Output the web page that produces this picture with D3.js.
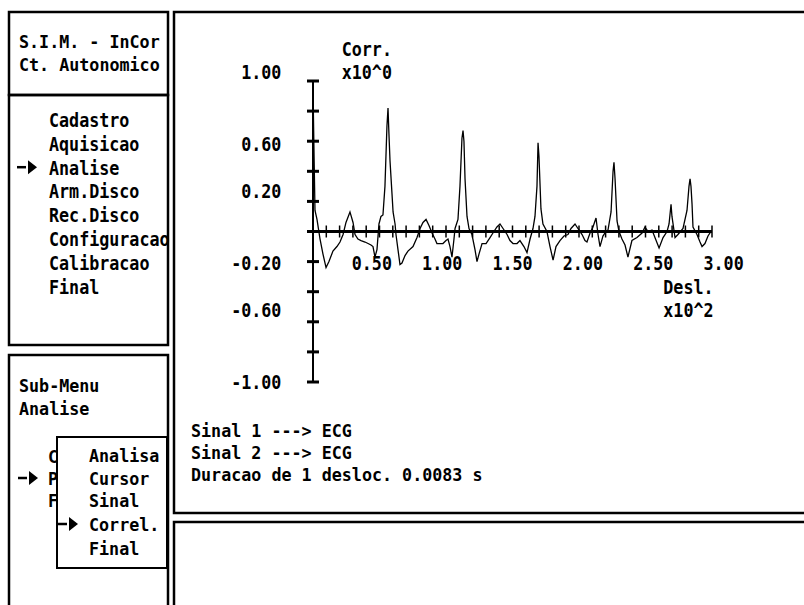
<!DOCTYPE html>
<html>
<head>
<meta charset="utf-8">
<script src="https://cdn.jsdelivr.net/npm/d3@7"></script>
<style>
  body { margin: 0; background: #fff; }
  svg { display: block; }
</style>
</head>
<body>
<div id="chart"></div>
<script>
const desl = [0.000, 0.008, 0.015, 0.030, 0.053, 0.075, 0.098, 0.120, 0.150, 0.180,
  0.203, 0.226, 0.248, 0.278, 0.301, 0.316, 0.338, 0.361, 0.391, 0.414,
  0.436, 0.451, 0.466, 0.481, 0.496, 0.511, 0.526, 0.541, 0.556, 0.564,
  0.571, 0.579, 0.594, 0.602, 0.617, 0.624, 0.639, 0.654, 0.669, 0.692,
  0.714, 0.752, 0.782, 0.805, 0.827, 0.850, 0.872, 0.895, 0.917, 0.932,
  0.955, 0.977, 1.000, 1.015, 1.030, 1.045, 1.060, 1.068, 1.090, 1.105,
  1.120, 1.128, 1.135, 1.143, 1.158, 1.173, 1.195, 1.218, 1.233, 1.248,
  1.271, 1.301, 1.331, 1.353, 1.383, 1.406, 1.429, 1.459, 1.481, 1.504,
  1.534, 1.556, 1.586, 1.609, 1.632, 1.654, 1.669, 1.684, 1.692, 1.699,
  1.714, 1.729, 1.759, 1.782, 1.805, 1.827, 1.857, 1.887, 1.917, 1.940,
  1.970, 1.992, 2.023, 2.045, 2.060, 2.083, 2.105, 2.128, 2.143, 2.158,
  2.180, 2.203, 2.218, 2.241, 2.256, 2.263, 2.271, 2.286, 2.301, 2.323,
  2.346, 2.368, 2.398, 2.436, 2.474, 2.496, 2.519, 2.549, 2.571, 2.602,
  2.632, 2.662, 2.677, 2.692, 2.699, 2.722, 2.744, 2.782, 2.812, 2.827,
  2.835, 2.842, 2.850, 2.857, 2.887, 2.910, 2.925, 2.947, 2.970, 2.992];
const corr = [0.95, 0.50, 0.14, 0.08, -0.05, -0.15, -0.24, -0.20, -0.13, -0.10,
  -0.07, -0.02, 0.06, 0.13, 0.06, -0.02, -0.05, -0.06, -0.07, -0.08,
  -0.09, -0.10, -0.17, -0.12, 0.05, 0.10, 0.11, 0.30, 0.70, 0.82,
  0.65, 0.47, 0.25, 0.13, 0.05, -0.02, -0.12, -0.22, -0.21, -0.16,
  -0.13, -0.10, -0.04, 0.02, 0.06, 0.08, 0.04, -0.01, -0.05, -0.08,
  -0.08, -0.08, -0.06, -0.05, -0.10, -0.17, -0.05, 0.02, 0.08, 0.30,
  0.62, 0.67, 0.60, 0.35, 0.10, 0.02, -0.02, -0.12, -0.20, -0.15,
  -0.08, -0.08, -0.04, -0.01, 0.03, 0.05, 0.02, -0.02, -0.06, -0.08,
  -0.08, -0.06, -0.10, -0.14, -0.05, 0.02, 0.10, 0.30, 0.59, 0.50,
  0.15, 0.05, 0.00, -0.10, -0.19, -0.10, -0.06, -0.03, -0.02, 0.02,
  0.05, 0.02, -0.02, -0.06, -0.07, -0.01, 0.03, 0.09, -0.02, -0.10,
  -0.03, 0.00, 0.01, 0.13, 0.40, 0.46, 0.35, 0.07, 0.00, -0.05,
  -0.09, -0.17, -0.06, -0.04, -0.01, 0.03, 0.00, 0.01, -0.04, -0.11,
  -0.04, 0.00, 0.05, 0.18, 0.10, -0.04, -0.02, 0.02, 0.14, 0.30,
  0.35, 0.30, 0.18, 0.03, -0.02, -0.07, -0.10, -0.08, -0.03, 0.00];

const yTicks = [1.0, 0.8, 0.6, 0.4, 0.2, 0.0, -0.2, -0.4, -0.6, -0.8, -1.0];
const yTickLabels = [1.0, 0.6, 0.2, -0.2, -0.6, -1.0];
const xTicks = d3.range(1, 31).map(i => i / 10);
const xTickLabels = [0.5, 1.0, 1.5, 2.0, 2.5, 3.0];

const titleLines = ["S.I.M. - InCor", "Ct. Autonomico"];
const mainMenu = ["Cadastro", "Aquisicao", "Analise", "Arm.Disco", "Rec.Disco",
  "Configuracao", "Calibracao", "Final"];
const mainSelected = "Analise";
const subTitle = ["Sub-Menu", "Analise"];
const subHidden = ["C", "P", "F"];
const popupMenu = ["Analisa", "Cursor", "Sinal", "Correl.", "Final"];
const popupSelected = "Correl.";
const infoLines = ["Sinal 1 ---> ECG", "Sinal 2 ---> ECG", "Duracao de 1 desloc. 0.0083 s"];

const W = 804, H = 605;
const CW = 10.05, ROW = 23.8, ROW0 = 72;   // grade de caracteres da tela

const svg = d3.select("#chart").append("svg")
    .attr("width", W).attr("height", H)
    .style("background", "white");

function txt(s, x, cy, anchor, sy) {
    sy = sy || 1.0;
    return svg.append("text")
        .attr("transform", `translate(${x},${cy + 7.3 * sy}) scale(0.835,${sy})`)
        .attr("text-anchor", anchor || "start")
        .style("font-family", "'DejaVu Sans Mono', 'Liberation Mono', monospace")
        .style("font-weight", "bold")
        .style("font-size", "20px")
        .style("fill", "#000")
        .text(s);
}

function box(x0, y0, x1, y1, sw, fill) {
    svg.append("rect")
        .attr("x", x0).attr("y", y0)
        .attr("width", x1 - x0).attr("height", y1 - y0)
        .attr("fill", fill || "none")
        .attr("stroke", "#000")
        .attr("stroke-width", sw || 2.5);
}

function arrow(x, cy) {
    svg.append("line").attr("x1", x).attr("x2", x + 9)
        .attr("y1", cy).attr("y2", cy)
        .attr("stroke", "#000").attr("stroke-width", 2.5);
    svg.append("path")
        .attr("d", `M${x + 11},${cy - 7}L${x + 20},${cy}L${x + 11},${cy + 7}Z`)
        .attr("fill", "#000");
}

// ---- paineis ----
box(9, 12, 168, 95);
box(9, 95, 168, 345);
box(9, 355, 168, H + 5);
box(174, 12, W + 5, 513);
box(174, 522, W + 5, H + 5);

// titulo
txt(titleLines[0], 19, 41, null, 0.92);
txt(titleLines[1], 19, 64, null, 0.92);

// menu principal
mainMenu.forEach((m, i) => {
    const cy = ROW0 + (i + 2) * ROW;
    txt(m, 49, cy);
    if (m === mainSelected) arrow(17, cy);
});

// sub-menu
txt(subTitle[0], 19, 385, null, 0.92);
txt(subTitle[1], 19, 408, null, 0.92);
subHidden.forEach((s, i) => {
    const cy = 456 + i * 22;
    txt(s, 48, cy, null, 0.92);
    if (i === 1) arrow(18, cy);
});

// menu popup
box(57, 437, 167, 568, 2, "white");
const popupY = [455, 478, 500, 524, 548];
popupMenu.forEach((m, i) => {
    txt(m, 89, popupY[i], null, 0.92);
    if (m === popupSelected) arrow(58, popupY[i]);
});

// ---- grafico ----
const x = d3.scaleLinear().domain([0, 3]).range([313, 712]);
const y = d3.scaleLinear().domain([-1, 1]).range([382, 81]);
const labelCol = d3.scaleLinear().domain([0.5, 3]).range([35, 70]);
const snapRow = py => ROW0 + Math.floor((py - ROW0) / ROW + 0.45) * ROW;

// eixo vertical
svg.append("line")
    .attr("x1", x(0)).attr("x2", x(0))
    .attr("y1", y(1)).attr("y2", y(-1))
    .attr("stroke", "#000").attr("stroke-width", 2);
svg.append("g").selectAll("line")
    .data(yTicks).join("line")
    .attr("x1", x(0) - 6).attr("x2", x(0) + 6)
    .attr("y1", d => y(d)).attr("y2", d => y(d))
    .attr("stroke", "#000").attr("stroke-width", 3);

// eixo horizontal
svg.append("line")
    .attr("x1", x(0)).attr("x2", x(3))
    .attr("y1", y(0)).attr("y2", y(0))
    .attr("stroke", "#000").attr("stroke-width", 3);
svg.append("g").selectAll("line")
    .data(xTicks).join("line")
    .attr("x1", d => x(d)).attr("x2", d => x(d))
    .attr("y1", y(0) - 6).attr("y2", y(0) + 6)
    .attr("stroke", "#000").attr("stroke-width", 1.5);

// curva
const pts = desl.map((d, i) => [d, corr[i]]);
svg.append("path")
    .datum(pts)
    .attr("d", d3.line().x(d => x(d[0])).y(d => y(d[1])))
    .attr("fill", "none")
    .attr("stroke", "#000")
    .attr("stroke-width", 1.3)
    .attr("stroke-linejoin", "miter");

// rotulos
yTickLabels.forEach(v => txt(v.toFixed(2), 28 * CW, snapRow(y(v)), "end"));
xTickLabels.forEach(v => txt(v.toFixed(2), labelCol(v) * CW, snapRow(y(0)) + ROW));
txt("Corr.", 34 * CW, ROW0 - ROW);
txt("x10^0", 34 * CW, ROW0);
txt("Desl.", 66 * CW, ROW0 + 9 * ROW);
txt("x10^2", 66 * CW, ROW0 + 10 * ROW);

// informacoes
const infoY = [430, 452, 474];
infoLines.forEach((s, i) => txt(s, 191, infoY[i], null, 0.9));
</script>
</body>
</html>
